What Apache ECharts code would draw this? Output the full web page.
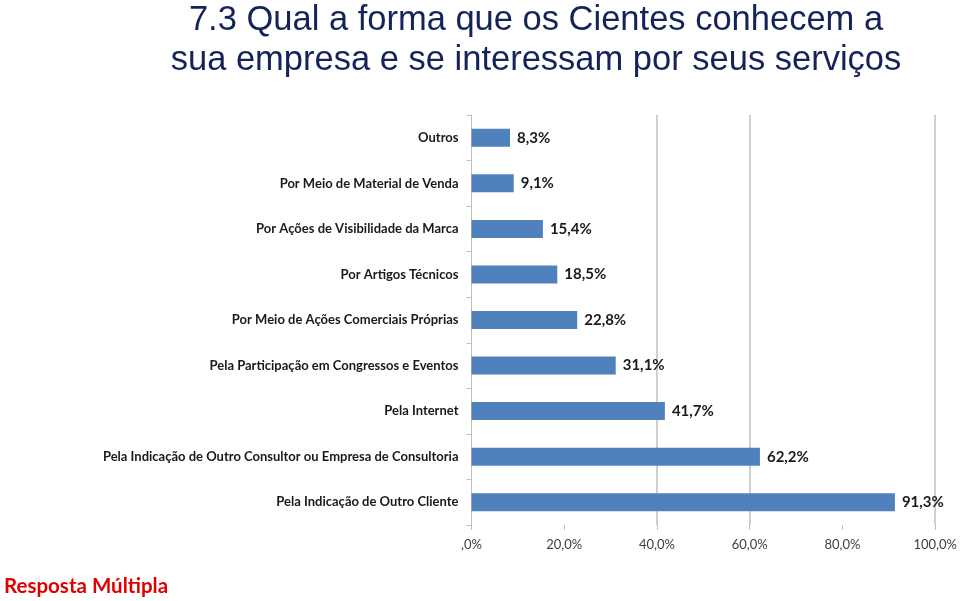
<!DOCTYPE html>
<html>
<head>
<meta charset="utf-8">
<script src="https://cdn.jsdelivr.net/npm/echarts@6/dist/echarts.min.js"></script>
<style>
  html, body { margin: 0; padding: 0; background: #fff; overflow: hidden; }
  #chart { width: 960px; height: 601px; }
</style>
</head>
<body>
<div id="chart"></div>
<script>
const categories = [
  'Outros',
  'Por Meio de Material de Venda',
  'Por Ações de Visibilidade da Marca',
  'Por Artigos Técnicos',
  'Por Meio de Ações Comerciais Próprias',
  'Pela Participação em Congressos e Eventos',
  'Pela Internet',
  'Pela Indicação de Outro Consultor ou Empresa de Consultoria',
  'Pela Indicação de Outro Cliente'
];
const values = [8.3, 9.1, 15.4, 18.5, 22.8, 31.1, 41.7, 62.2, 91.3];
const gridMarks = [40, 60, 100];

const titleText = '7.3 Qual a forma que os Cientes conhecem a\nsua empresa e se interessam por seus serviços';
const noteText = 'Resposta Múltipla';

const fmt = v => (v === 0 ? ',0%' : v.toFixed(1).replace('.', ',') + '%');

const chart = echarts.init(document.getElementById('chart'));
const option = {
  animation: false,
  grid: { left: 471.5, right: 20, top: 115, bottom: 76, containLabel: false },
  graphic: [
    {
      type: 'text',
      x: 536, y: 0,
      style: {
        text: titleText,
        fill: '#14245a',
        font: '34.5px "Liberation Sans", Arial, sans-serif',
        textAlign: 'center',
        lineHeight: 40
      }
    },
    {
      type: 'text',
      x: 4, y: 576,
      style: {
        text: noteText,
        fill: '#e00000',
        font: 'bold 20.5px Lato, sans-serif'
      }
    }
  ],
  xAxis: {
    type: 'value',
    min: 0,
    max: 100,
    interval: 20,
    axisLine: { show: false },
    axisTick: { show: true, length: 5, lineStyle: { color: '#bfbfbf' } },
    splitLine: { show: false },
    axisLabel: {
      formatter: fmt,
      color: '#404040',
      fontFamily: 'Lato, sans-serif',
      fontSize: 13,
      margin: 13
    }
  },
  yAxis: {
    type: 'category',
    data: categories,
    inverse: true,
    axisLine: { lineStyle: { color: '#bfbfbf', width: 1 } },
    axisTick: { show: true, length: 5, lineStyle: { color: '#bfbfbf' } },
    axisLabel: {
      color: '#1a1a1a',
      fontWeight: 'bold',
      fontFamily: 'Lato, sans-serif',
      fontSize: 13,
      margin: 13
    }
  },
  series: [
    {
      type: 'bar',
      data: values,
      barWidth: 18,
      itemStyle: { color: '#4f81bd' },
      label: {
        show: true,
        position: 'right',
        distance: 7,
        formatter: p => fmt(p.value),
        color: '#1a1a1a',
        fontWeight: 'bold',
        fontFamily: 'Lato, sans-serif',
        fontSize: 15
      },
      markLine: {
        silent: true,
        symbol: 'none',
        z: 1,
        label: { show: false },
        lineStyle: { color: '#bfbfbf', width: 1.5, type: 'solid' },
        data: gridMarks.map(v => ({ xAxis: v }))
      }
    }
  ]
};
chart.setOption(option);
</script>
</body>
</html>
